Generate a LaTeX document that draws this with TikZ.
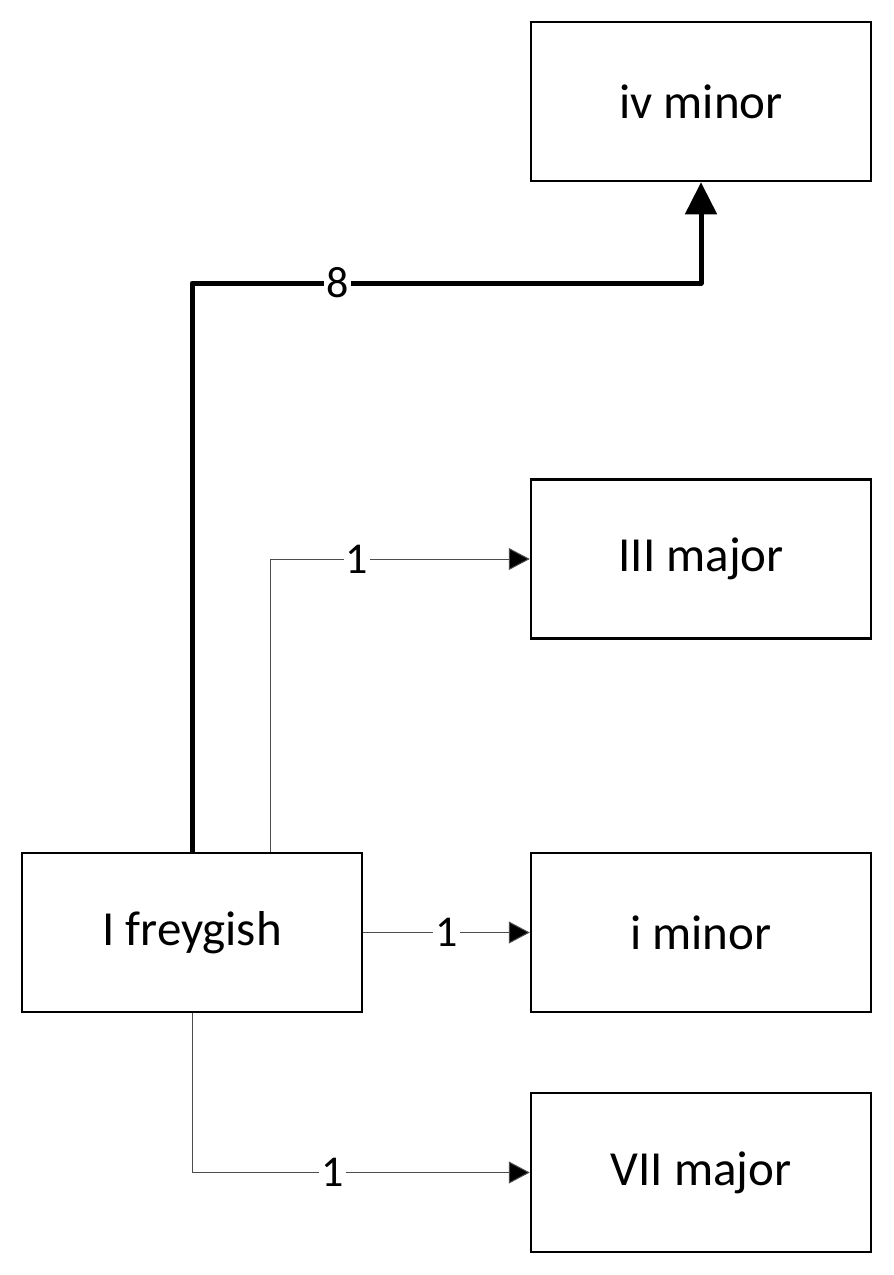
\documentclass[tikz,border=0pt]{standalone}
\usepackage{fontspec}
\setmainfont{Carlito}
\usetikzlibrary{arrows.meta}
\tikzset{
  box/.style={draw=black, line width=2.5pt, minimum width=340pt, minimum height=159pt, inner sep=0pt, font=\fontsize{49}{55}\selectfont},
  thin/.style={draw=black!70, line width=1pt, -{Triangle[width=22pt,length=21pt,fill=black]}},
  thick/.style={draw=black, line width=5pt, -{Triangle[width=31pt,length=32pt]}},
  lbl/.style={fill=white, inner sep=2pt, font=\fontsize{44}{50}\selectfont, text=black}
}
\begin{document}
\begin{tikzpicture}[x=1pt,y=-1pt]
\useasboundingbox (0,0) rectangle (894,1275);
\node[box] (iv) at (701,101.5) {iv minor};
\node[box] (III) at (701,559) {III major};
\node[box] (I) at (192,932.5) {I freygish};
\node[box] (i) at (701,932.5) {i minor};
\node[box] (VII) at (701,1172.5) {VII major};
\coordinate (c8) at (192,283);
\draw[thick, line join=round] (I.north) -- (c8) -| node[lbl, pos=0.143] {8} (iv.south);
\draw[thin] ([xshift=78pt]I.north) |- node[lbl, pos=0.667] {1} (III.west);
\draw[thin] (I.east) -- node[lbl] {1} (i.west);
\draw[thin] (I.south) |- node[lbl, pos=0.708] {1} (VII.west);
\end{tikzpicture}
\end{document}
